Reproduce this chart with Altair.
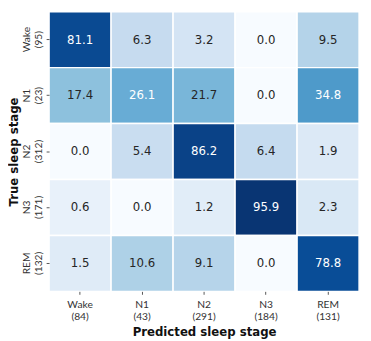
import altair as alt
import pandas as pd

true_labels = ["Wake\n(95)", "N1\n(23)", "N2\n(312)", "N3\n(171)", "REM\n(132)"]
pred_labels = ["Wake\n(84)", "N1\n(43)", "N2\n(291)", "N3\n(184)", "REM\n(131)"]
values = [
    [81.1, 6.3, 3.2, 0.0, 9.5],
    [17.4, 26.1, 21.7, 0.0, 34.8],
    [0.0, 5.4, 86.2, 6.4, 1.9],
    [0.6, 0.0, 1.2, 95.9, 2.3],
    [1.5, 10.6, 9.1, 0.0, 78.8],
]
blues = ["#f7fbff", "#deebf7", "#c6dbef", "#9ecae1", "#6baed6",
         "#4292c6", "#2171b5", "#08519c", "#08306b"]
stops = [0, 0.125, 0.25, 0.375, 0.5, 0.625, 0.75, 0.875, 1.0]

rows = []
for i, t in enumerate(true_labels):
    for j, p in enumerate(pred_labels):
        rows.append({"true": t, "pred": p, "v": values[i][j]})
df = pd.DataFrame(rows)

x = alt.X("pred:N", sort=pred_labels, title="Predicted sleep stage",
          axis=alt.Axis(labelAngle=0, labelExpr="split(datum.label, '\\n')",
                        labelLineHeight=11.5,
                        domain=False, tickSize=3, tickColor="#555",
                        labelFont="Lato", labelFontSize=10.5, labelColor="#333",
                        labelPadding=6, titleFont="DejaVu Sans", titleFontWeight="bold",
                        titleFontSize=12, titleColor="#111", titlePadding=5))
y = alt.Y("true:N", sort=true_labels, title="True sleep stage",
          axis=alt.Axis(labelAngle=-90, labelExpr="split(datum.label, '\\n')",
                        labelLineHeight=12.5,
                        labelAlign="center", labelBaseline="bottom",
                        domain=False, tickSize=3, tickColor="#555",
                        labelFont="Lato", labelFontSize=10.5, labelColor="#333",
                        labelPadding=15, titleFont="DejaVu Sans", titleFontWeight="bold",
                        titleFontSize=12, titleColor="#111",
                        titleX=-36, titleY=143, titleAngle=-90,
                        titleAlign="center", titleBaseline="middle"))

color = alt.Color("s:Q", legend=None, scale=alt.Scale(domain=stops, range=blues))

base = alt.Chart(df).transform_calculate(s="sqrt(datum.v / 100)").encode(x=x, y=y)
rect = base.mark_rect(stroke="white", strokeWidth=1.5).encode(color=color)
text = base.mark_text(font="DejaVu Sans", fontSize=12).encode(
    text=alt.Text("v:Q", format=".1f"),
    color=alt.condition("datum.v > 25", alt.value("white"), alt.value("#262626")),
)

chart = (rect + text).properties(
    width=317, height=286,
    autosize=alt.AutoSizeParams(type="none"),
    padding={"left": 42, "top": 0, "right": 4, "bottom": 47},
).configure_view(strokeWidth=0).configure_scale(bandPaddingInner=0, bandPaddingOuter=0)

chart.save("out.html", embed_options={"renderer": "svg", "actions": False})
